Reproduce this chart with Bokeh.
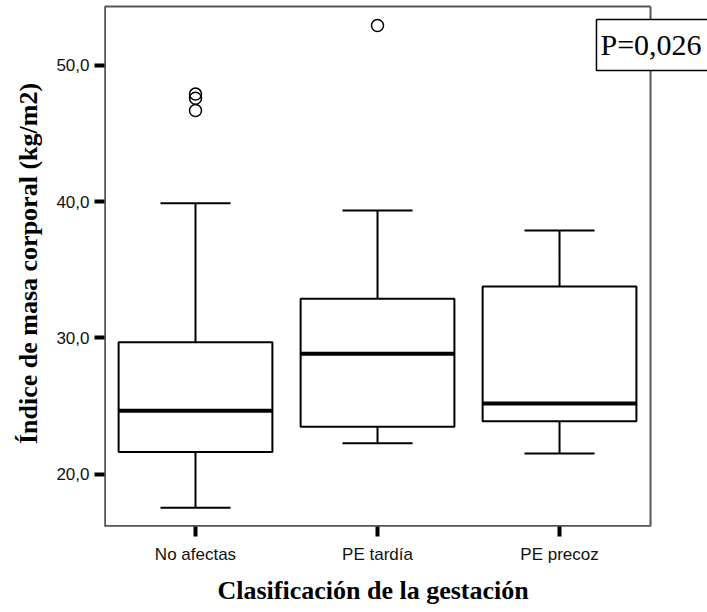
from bokeh.plotting import figure
from bokeh.models import Range1d, FixedTicker, Label, Title
from bokeh.embed import file_html
from bokeh.resources import INLINE

# Body mass index by pregnancy classification (box plot summary)
categories = ["No afectas", "PE tardía", "PE precoz"]
whisker_low = [17.53, 22.27, 21.51]
q1 = [21.63, 23.49, 23.89]
median = [24.66, 28.84, 25.18]
q3 = [29.68, 32.87, 33.78]
whisker_high = [39.89, 39.35, 37.89]

outlier_group = ["No afectas", "No afectas", "No afectas", "PE tardía"]
outlier_value = [47.9, 47.6, 46.7, 52.94]

y_ticks = [20, 30, 40, 50]
y_tick_labels = {20: "20,0", 30: "30,0", 40: "40,0", 50: "50,0"}

# category slots: one unit per group, centred at i + 0.5
pos = {c: i + 0.5 for i, c in enumerate(categories)}
xc = [pos[c] for c in categories]
xo = [pos[c] for c in outlier_group]

# box frame spans the three slots; the plotting area runs on past it
# so the p-value tag can sit over the right border
Y0, Y1 = 16.16, 54.33
X0, X1 = 0.0, float(len(categories))

p = figure(
    width=707, height=612,
    x_range=Range1d(X0, 3.313),
    y_range=Range1d(Y0, 54.77),
    output_backend="svg", toolbar_location=None,
    min_border_left=104, min_border_right=0,
    min_border_top=0, min_border_bottom=86,
)

p.background_fill_color = "white"
p.border_fill_color = "white"
p.outline_line_color = None
p.xgrid.visible = False
p.ygrid.visible = False

# grey frame around the groups
GREY = "#555555"
p.segment(x0=[X0, X1, X0, X0], y0=[Y0, Y0, Y1, Y0],
          x1=[X0, X1, X1, X1], y1=[Y1, Y1, Y1, Y0],
          line_color=GREY, line_width=2)
p.segment(x0=[X0, X0], y0=[Y0, Y0], x1=[X1, X0], y1=[Y0, Y1],
          line_color=GREY, line_width=3)

BOX_W = 0.845
CAP_W = 0.385

# whiskers
p.segment(x0=xc, y0=q3, x1=xc, y1=whisker_high, line_color="black", line_width=2)
p.segment(x0=xc, y0=whisker_low, x1=xc, y1=q1, line_color="black", line_width=2)

# whisker caps
half_cap = CAP_W / 2
p.segment(x0=[x - half_cap for x in xc], y0=whisker_high,
          x1=[x + half_cap for x in xc], y1=whisker_high,
          line_color="black", line_width=2)
p.segment(x0=[x - half_cap for x in xc], y0=whisker_low,
          x1=[x + half_cap for x in xc], y1=whisker_low,
          line_color="black", line_width=2)

# boxes
p.vbar(x=xc, bottom=q1, top=q3, width=BOX_W, fill_color="white",
       line_color="black", line_width=2)

# medians
half_box = BOX_W / 2
p.segment(x0=[x - half_box for x in xc], y0=median,
          x1=[x + half_box for x in xc], y1=median,
          line_color="black", line_width=4)

# outliers
p.scatter(x=xo, y=outlier_value, marker="circle", size=12,
          fill_color=None, line_color="black", line_width=1.5)

# axes
p.xaxis.ticker = FixedTicker(ticks=xc)
p.xaxis.major_label_overrides = {x: c for x, c in zip(xc, categories)}
p.yaxis.ticker = FixedTicker(ticks=y_ticks)
p.yaxis.major_label_overrides = y_tick_labels
for ax in (p.xaxis[0], p.yaxis[0]):
    ax.axis_line_color = None
    ax.major_tick_line_color = "black"
    ax.major_tick_line_width = 4
    ax.major_tick_out = 10
    ax.major_tick_in = 0
    ax.minor_tick_line_color = None
    ax.major_label_text_font = "Liberation Sans"
    ax.major_label_text_font_size = "17px"
    ax.major_label_text_color = "#111111"
    ax.axis_label_text_font = "Liberation Serif"
    ax.axis_label_text_font_style = "bold"
    ax.axis_label_text_font_size = "26px"
    ax.axis_label_text_color = "black"

p.yaxis.axis_label = "Índice de masa corporal (kg/m2)"
p.yaxis.major_label_standoff = 5
p.xaxis.major_label_standoff = 8
p.yaxis.axis_label_standoff = 10

# x title, centred under the three groups rather than the whole area
p.add_layout(Title(
    text="Clasificación de la gestación", align="left", offset=113,
    text_font="Liberation Serif", text_font_style="bold",
    text_font_size="26px", text_color="black", standoff=15,
), "below")

# p-value annotation
p.add_layout(Label(
    x=2.703, y=53.38, text="P=0,026",
    text_font="Liberation Serif", text_font_size="30px", text_color="black",
    text_align="left", text_baseline="top",
    border_line_color="black", border_line_width=1.5,
    background_fill_color="white",
    padding=dict(left=4, right=10, top=9, bottom=9),
))

open("out.html", "w").write(file_html(p, INLINE))
